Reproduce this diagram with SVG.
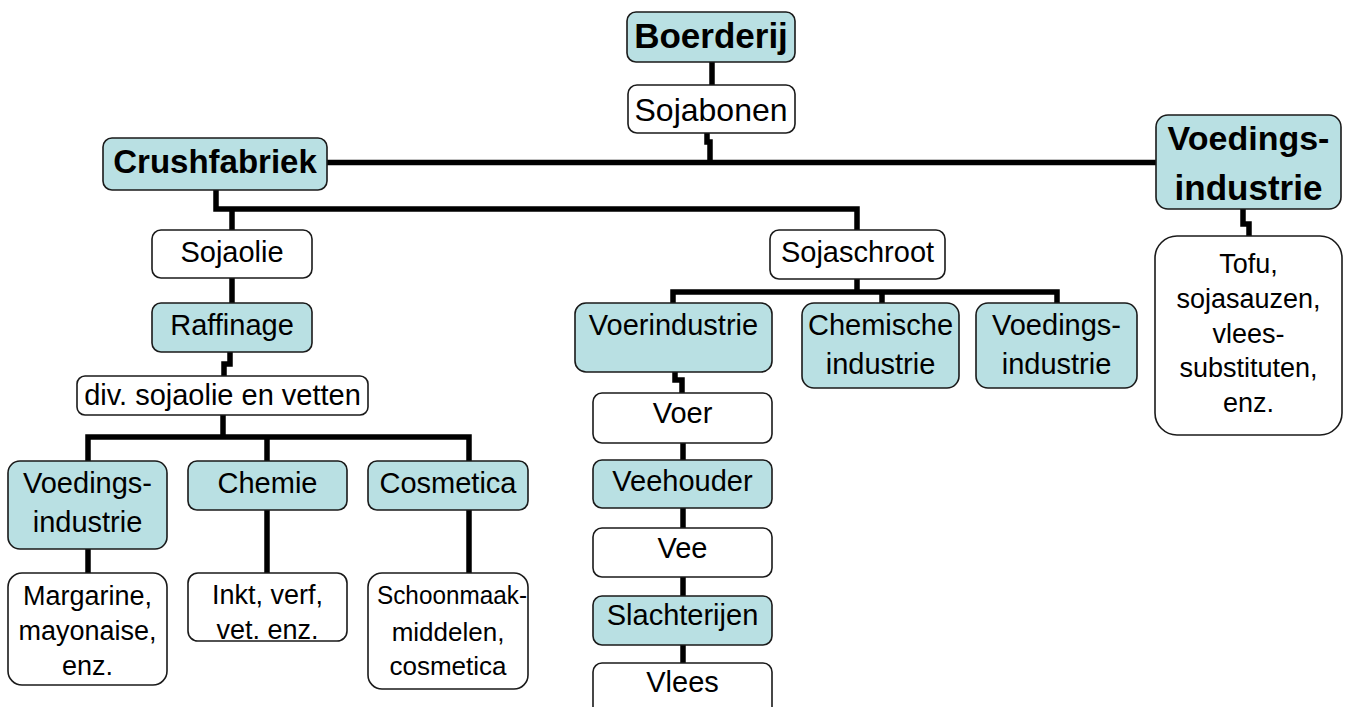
<svg xmlns="http://www.w3.org/2000/svg" width="1346" height="707" viewBox="0 0 1346 707">
<style>
.b{stroke:#1a1a1a;stroke-width:1.6}
.t{fill:#b9e0e3}
.w{fill:#ffffff}
text{font-family:"Liberation Sans",Arial,sans-serif;fill:#000;text-anchor:middle}
.r{font-size:29px}
.s{font-size:27px}
.bd{font-size:34px;font-weight:bold}
.c{fill:none;stroke:#000;stroke-width:5.5}
</style>
<rect width="1346" height="707" fill="#fff"/>
<g id="connectors">
<path class="c" d="M712,62V85"/>
<path class="c" d="M707,133V142H710V163"/>
<path class="c" d="M327,162.5H1156"/>
<path class="c" d="M216,190V209H857V230"/>
<path class="c" d="M232,209V230"/>
<path class="c" d="M232,278V303"/>
<path class="c" d="M230,352V364H224V376"/>
<path class="c" d="M223,415V437"/>
<path class="c" d="M88,461V437H469V461"/>
<path class="c" d="M267,437V461"/>
<path class="c" d="M88,549V573"/>
<path class="c" d="M267,510V573"/>
<path class="c" d="M469,510V573"/>
<path class="c" d="M857,279V292"/>
<path class="c" d="M673,303V292H1057V303"/>
<path class="c" d="M882,292V303"/>
<path class="c" d="M675,372V380H682V393"/>
<path class="c" d="M683,443V460"/>
<path class="c" d="M683,508V528"/>
<path class="c" d="M683,577V596"/>
<path class="c" d="M683,645V663"/>
<path class="c" d="M1243,209V224H1249V236"/>
</g>
<g id="boerderij"><rect class="b t" x="627" y="12" width="168" height="50" rx="9"/><text class="bd" x="711" y="48" style="font-size:35px">Boerderij</text></g>
<g id="sojabonen"><rect class="b w" x="628" y="85" width="167" height="48" rx="9"/><text x="711" y="121" style="font-size:32px">Sojabonen</text></g>
<g id="crushfabriek"><rect class="b t" x="103" y="138" width="224" height="52" rx="9"/><text class="bd" x="215" y="173" style="font-size:33px">Crushfabriek</text></g>
<g id="voedingsindustrie-top"><rect class="b t" x="1156" y="115" width="185" height="94" rx="12"/><text class="bd" x="1248.5" y="150" style="font-size:34px">Voedings-</text><text class="bd" x="1248.5" y="200" style="font-size:35px">industrie</text></g>
<g id="tofu"><rect class="b w" x="1155" y="236" width="187" height="199" rx="22"/><text class="s" x="1248.5" y="273">Tofu,</text><text class="s" x="1248.5" y="308">sojasauzen,</text><text class="s" x="1248.5" y="343">vlees-</text><text class="s" x="1248.5" y="377">substituten,</text><text class="s" x="1248.5" y="412">enz.</text></g>
<g id="sojaolie"><rect class="b w" x="152" y="230" width="160" height="48" rx="9"/><text class="r" x="232" y="262">Sojaolie</text></g>
<g id="raffinage"><rect class="b t" x="152" y="303" width="160" height="49" rx="9"/><text class="r" x="232" y="335">Raffinage</text></g>
<g id="div"><rect class="b w" x="77" y="376" width="291" height="39" rx="8"/><text class="r" x="222.5" y="405">div. sojaolie en vetten</text></g>
<g id="voedingsindustrie-left"><rect class="b t" x="8" y="461" width="159" height="88" rx="12"/><text class="r" x="87.5" y="493">Voedings-</text><text class="r" x="87.5" y="532">industrie</text></g>
<g id="chemie"><rect class="b t" x="188" y="461" width="159" height="49" rx="9"/><text class="r" x="267.5" y="493">Chemie</text></g>
<g id="cosmetica"><rect class="b t" x="368" y="461" width="160" height="49" rx="9"/><text class="r" x="448" y="493">Cosmetica</text></g>
<g id="margarine"><rect class="b w" x="8" y="573" width="159" height="112" rx="14"/><text class="s" x="87.5" y="605">Margarine,</text><text class="s" x="87.5" y="640">mayonaise,</text><text class="s" x="87.5" y="675">enz.</text></g>
<g id="inkt"><rect class="b w" x="188" y="573" width="159" height="68" rx="10"/><text class="s" x="267.5" y="604">Inkt, verf,</text><text class="s" x="267.5" y="639">vet. enz.</text></g>
<g id="schoonmaak"><rect class="b w" x="368" y="573" width="160" height="116" rx="14"/><text x="452" y="604" style="font-size:26px" textLength="150" lengthAdjust="spacingAndGlyphs">Schoonmaak-</text><text x="448" y="641" style="font-size:26px">middelen,</text><text x="448" y="675" style="font-size:26px">cosmetica</text></g>
<g id="sojaschroot"><rect class="b w" x="770" y="230" width="175" height="49" rx="9"/><text class="r" x="857.5" y="262">Sojaschroot</text></g>
<g id="voerindustrie"><rect class="b t" x="575" y="303" width="197" height="69" rx="11"/><text class="r" x="673.5" y="335">Voerindustrie</text></g>
<g id="chemische-industrie"><rect class="b t" x="802" y="303" width="157" height="85" rx="12"/><text class="r" x="880.5" y="335">Chemische</text><text class="r" x="880.5" y="374">industrie</text></g>
<g id="voedingsindustrie-mid"><rect class="b t" x="976" y="303" width="161" height="85" rx="12"/><text class="r" x="1056.5" y="335">Voedings-</text><text class="r" x="1056.5" y="374">industrie</text></g>
<g id="voer"><rect class="b w" x="593" y="393" width="179" height="50" rx="9"/><text class="r" x="682.5" y="423">Voer</text></g>
<g id="veehouder"><rect class="b t" x="593" y="460" width="179" height="48" rx="9"/><text class="r" x="682.5" y="491">Veehouder</text></g>
<g id="vee"><rect class="b w" x="593" y="528" width="179" height="49" rx="9"/><text class="r" x="682.5" y="558">Vee</text></g>
<g id="slachterijen"><rect class="b t" x="593" y="596" width="179" height="49" rx="9"/><text class="r" x="682.5" y="625">Slachterijen</text></g>
<g id="vlees"><rect class="b w" x="593" y="663" width="179" height="60" rx="9"/><text class="r" x="682.5" y="692">Vlees</text></g>
</svg>
